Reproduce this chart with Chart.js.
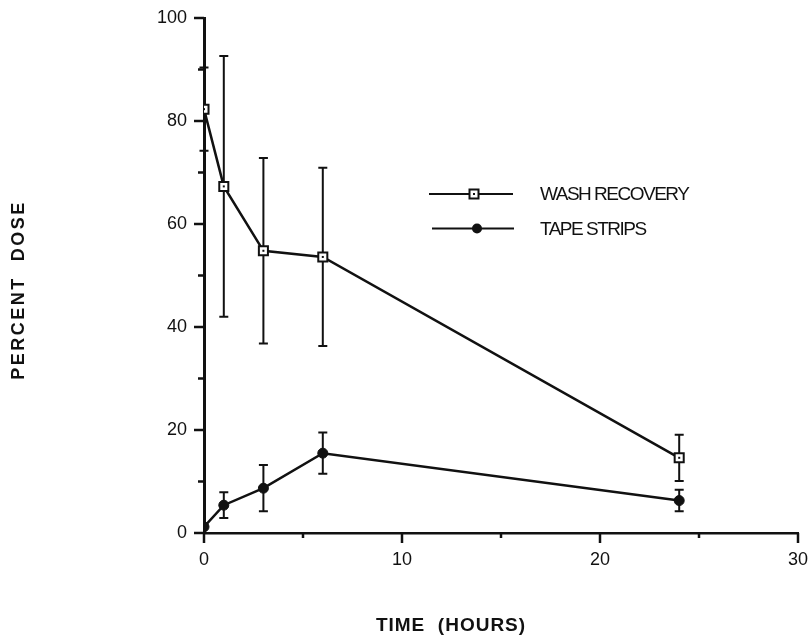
<!DOCTYPE html>
<html>
<head>
<meta charset="utf-8">
<script src="https://cdn.jsdelivr.net/npm/chart.js@4.4.0/dist/chart.umd.min.js"></script>
<style>
  body { margin: 0; background: #fff; }
  #wrap { width: 812px; height: 637px; }
</style>
</head>
<body>
<div id="wrap"><canvas id="grafik" width="812" height="637"></canvas></div>
<script>
// ================= DATA =================
const timeHours = [0, 1, 3, 6, 24];
const washRecovery = [82.3, 67.3, 54.8, 53.6, 14.6];
const washErr = [8.1, 25.3, 18.0, 17.3, 4.5];
const tapeStrips = [1.2, 5.4, 8.7, 15.5, 6.3];
const tapeErr = [0, 2.5, 4.5, 4.0, 2.1];

const xTickValues = [0, 5, 10, 15, 20, 25, 30];
const xTickLabels = [0, 10, 20, 30];
const yTickValues = [0, 10, 20, 30, 40, 50, 60, 70, 80, 90, 100];
const yTickLabels = [0, 20, 40, 60, 80, 100];

const seriesNames = ["WASH RECOVERY", "TAPE STRIPS"];
const FONT = "'Liberation Sans', Arial, Helvetica, sans-serif";
const INK = "#111";

function toPoints(xs, ys) {
  return xs.map((x, i) => ({ x: x, y: ys[i] }));
}

// ================= PLUGIN: ERROR BARS =================
const errorBars = {
  id: "errorBars",
  beforeDatasetsDraw(chart) {
    const { ctx, scales } = chart;
    const errs = [washErr, tapeErr];
    const vals = [washRecovery, tapeStrips];
    ctx.save();
    ctx.strokeStyle = INK;
    ctx.lineWidth = 2;
    errs.forEach((err, d) => {
      timeHours.forEach((t, i) => {
        if (!err[i]) return;
        const px = scales.x.getPixelForValue(t);
        const hi = scales.y.getPixelForValue(vals[d][i] + err[i]);
        const lo = scales.y.getPixelForValue(vals[d][i] - err[i]);
        ctx.beginPath();
        ctx.moveTo(px, hi); ctx.lineTo(px, lo);
        ctx.moveTo(px - 4.5, hi); ctx.lineTo(px + 4.5, hi);
        ctx.moveTo(px - 4.5, lo); ctx.lineTo(px + 4.5, lo);
        ctx.stroke();
      });
    });
    ctx.restore();
  },
  afterDatasetsDraw(chart) {
    // titik kecil di tengah kotak
    const { ctx, scales } = chart;
    ctx.save();
    ctx.fillStyle = INK;
    timeHours.forEach((t, i) => {
      const px = scales.x.getPixelForValue(t);
      const py = scales.y.getPixelForValue(washRecovery[i]);
      ctx.fillRect(px - 1, py - 1, 2, 2);
    });
    ctx.restore();
  },
};

// ================= PLUGIN: TICKS, TITLES, LEGEND =================
const decor = {
  id: "decor",
  afterDraw(chart) {
    const { ctx, scales, chartArea } = chart;
    ctx.save();
    ctx.strokeStyle = INK;
    ctx.lineWidth = 2.5;

    yTickValues.forEach((v) => {
      const py = scales.y.getPixelForValue(v);
      const len = yTickLabels.includes(v) ? 10 : 6;
      ctx.beginPath();
      ctx.moveTo(chartArea.left - len, py);
      ctx.lineTo(chartArea.left, py);
      ctx.stroke();
    });
    xTickValues.forEach((v) => {
      const px = scales.x.getPixelForValue(v);
      const len = xTickLabels.includes(v) ? 10 : 5;
      ctx.beginPath();
      ctx.moveTo(px, chartArea.bottom);
      ctx.lineTo(px, chartArea.bottom + len);
      ctx.stroke();
    });

    // judul sumbu
    ctx.fillStyle = INK;
    ctx.textAlign = "center";
    ctx.textBaseline = "middle";
    ctx.font = "bold 18px " + FONT;
    ctx.letterSpacing = "2.5px";
    ctx.save();
    ctx.translate(19, 290);
    ctx.rotate(-Math.PI / 2);
    ctx.fillText("PERCENT  DOSE", 0, 0);
    ctx.restore();
    ctx.font = "bold 19px " + FONT;
    ctx.letterSpacing = "1px";
    ctx.fillText("TIME  (HOURS)", 451, 626);

    // legenda
    ctx.letterSpacing = "-1.5px";
    ctx.font = "19px " + FONT;
    ctx.textAlign = "left";
    const rows = [
      { y: 194, x0: 429, x1: 513, mx: 474, style: "rect" },
      { y: 228.5, x0: 432, x1: 514, mx: 477, style: "circle" },
    ];
    rows.forEach((r, i) => {
      ctx.lineWidth = 2;
      ctx.beginPath();
      ctx.moveTo(r.x0, r.y);
      ctx.lineTo(r.x1, r.y);
      ctx.stroke();
      if (r.style === "rect") {
        ctx.fillStyle = "#fff";
        ctx.fillRect(r.mx - 4.5, r.y - 4.5, 9, 9);
        ctx.lineWidth = 2;
        ctx.strokeRect(r.mx - 4.5, r.y - 4.5, 9, 9);
        ctx.fillStyle = INK;
        ctx.fillRect(r.mx - 1, r.y - 1, 2, 2);
      } else {
        ctx.fillStyle = INK;
        ctx.beginPath();
        ctx.arc(r.mx, r.y, 5, 0, Math.PI * 2);
        ctx.fill();
      }
      ctx.fillStyle = INK;
      ctx.fillText(seriesNames[i], 540, r.y + 1);
    });
    ctx.restore();
  },
};

// ================= GRAFIK =================
const ctx = document.getElementById("grafik");

new Chart(ctx, {
  type: "scatter",
  data: {
    datasets: [
      {
        label: seriesNames[0],
        data: toPoints(timeHours, washRecovery),
        showLine: true,
        borderColor: INK,
        borderWidth: 2.5,
        pointStyle: "rect",
        pointRadius: 6.4,
        pointBackgroundColor: "#fff",
        pointBorderColor: INK,
        pointBorderWidth: 2,
      },
      {
        label: seriesNames[1],
        data: toPoints(timeHours, tapeStrips),
        showLine: true,
        borderColor: INK,
        borderWidth: 2.5,
        pointStyle: "circle",
        pointRadius: 5,
        pointBackgroundColor: INK,
        pointBorderColor: INK,
        pointBorderWidth: 1,
      },
    ],
  },
  options: {
    responsive: false,
    devicePixelRatio: 1,
    animation: false,
    layout: { padding: { left: 0, top: 18, right: 14, bottom: 0 } },
    plugins: {
      legend: { display: false },
      tooltip: { enabled: false },
    },
    scales: {
      x: {
        type: "linear",
        min: 0,
        max: 30,
        afterBuildTicks: (s) => { s.ticks = xTickValues.map((v) => ({ value: v })); },
        afterFit: (s) => {
          s.height = 104;
          s.paddingLeft = 0;
          s.paddingRight = 0;
        },
        grid: { display: false, drawTicks: false },
        border: { display: true, color: INK, width: 2.5 },
        ticks: {
          autoSkip: false,
          maxRotation: 0,
          padding: 16,
          color: INK,
          font: { family: FONT, size: 18 },
          callback: (v) => (xTickLabels.includes(v) ? String(v) : ""),
        },
      },
      y: {
        min: 0,
        max: 100,
        afterBuildTicks: (s) => { s.ticks = yTickValues.map((v) => ({ value: v })); },
        afterFit: (s) => {
          s.width = 204;
          s.paddingTop = 0;
          s.paddingBottom = 0;
        },
        grid: { display: false, drawTicks: false },
        border: { display: true, color: INK, width: 3 },
        ticks: {
          autoSkip: false,
          padding: 17,
          color: INK,
          font: { family: FONT, size: 18 },
          callback: (v) => (yTickLabels.includes(v) ? String(v) : ""),
        },
      },
    },
  },
  plugins: [errorBars, decor],
});
</script>
</body>
</html>
